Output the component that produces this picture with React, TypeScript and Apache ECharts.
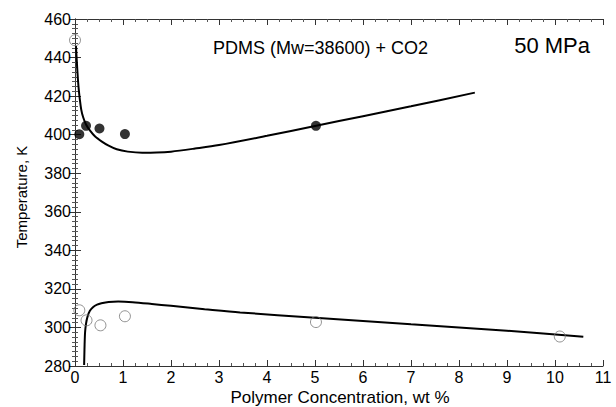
import React, { useEffect, useRef } from "react";
import * as echarts from "echarts";

// Measured cloud points (filled) and bubble/other points (open)
const filledX = [0.09, 0.23, 0.51, 1.04, 5.02];
const filledY = [400.2, 404.6, 403.2, 400.3, 404.6];
const openX = [0.0, 0.09, 0.24, 0.53, 1.04, 5.02, 10.1];
const openY = [449, 308.9, 303.7, 301.1, 305.8, 302.8, 295.3];

// Model curves
const upperX = [0.02, 0.04, 0.06, 0.08, 0.1, 0.13, 0.17, 0.23, 0.31, 0.42, 0.56, 0.7, 0.87, 1.1, 1.4, 1.7, 2.0, 2.5, 3.0, 4.0, 5.0, 6.0, 7.0, 8.33];
const upperY = [446, 437, 429, 423, 418.5, 413, 409, 405.3, 402.2, 399, 396.4, 394.3, 392.4, 391.2, 390.6, 390.7, 391.2, 392.8, 394.6, 399.4, 404.5, 409.6, 414.7, 421.8];
const lowerX = [0.19, 0.195, 0.2, 0.21, 0.23, 0.26, 0.31, 0.38, 0.46, 0.55, 0.7, 0.9, 1.2, 1.6, 2.0, 2.7, 3.44, 5.0, 7.0, 9.0, 10.59];
const lowerY = [280.5, 286, 291, 297.5, 302, 305.5, 308.6, 310.6, 311.8, 312.5, 313.2, 313.4, 313.1, 312.2, 311.2, 309.5, 307.8, 305.0, 301.6, 298.3, 295.2];

const xTicks = { min: 0, max: 11, interval: 1 };
const yTicks = { min: 280, max: 460, interval: 20 };

const FONT = "Liberation Sans, Arial, sans-serif";

export default function App() {
  const ref = useRef<HTMLDivElement>(null);
  useEffect(() => {
    if (!ref.current) return;
    const chart = echarts.init(ref.current, null, { renderer: "svg" });
    const axisLine = { show: true, lineStyle: { color: "#333", width: 1 } };
    const baseX = {
      type: "value" as const,
      min: xTicks.min,
      max: xTicks.max,
      interval: xTicks.interval,
      axisLine,
      axisTick: { show: true, inside: true, length: 6, lineStyle: { color: "#333" } },
      minorTick: { show: true, splitNumber: 4, length: 3, lineStyle: { color: "#555" } },
      splitLine: { show: false },
    };
    const baseY = {
      type: "value" as const,
      min: yTicks.min,
      max: yTicks.max,
      interval: yTicks.interval,
      axisLine,
      axisTick: { show: true, inside: true, length: 6, lineStyle: { color: "#333" } },
      minorTick: { show: true, splitNumber: 8, length: 3, lineStyle: { color: "#555" } },
      splitLine: { show: false },
    };
    chart.setOption({
      animation: false,
      backgroundColor: "#fff",
      grid: { left: 75, right: 13, top: 19, bottom: 41 },
      xAxis: [
        {
          ...baseX,
          position: "bottom",
          axisLabel: { show: true, fontSize: 16, color: "#000", fontFamily: FONT, margin: 3 },
        },
        { ...baseX, position: "top", axisLabel: { show: false } },
      ],
      yAxis: [
        {
          ...baseY,
          position: "left",
          axisLabel: { show: true, fontSize: 16, color: "#000", fontFamily: FONT, margin: 4 },
        },
        { ...baseY, position: "right", axisLabel: { show: false } },
      ],
      series: [
        {
          type: "line",
          data: upperX.map((x, i) => [x, upperY[i]]),
          showSymbol: false,
          smooth: 0.3,
          lineStyle: { color: "#000", width: 2 },
          z: 2,
        },
        {
          type: "line",
          data: lowerX.map((x, i) => [x, lowerY[i]]),
          showSymbol: false,
          smooth: 0.3,
          lineStyle: { color: "#000", width: 2 },
          z: 2,
        },
        {
          type: "scatter",
          data: filledX.map((x, i) => [x, filledY[i]]),
          symbol: "circle",
          symbolSize: 10,
          itemStyle: { color: "#000" },
          z: 3,
        },
        {
          type: "scatter",
          data: openX.map((x, i) => [x, openY[i]]),
          symbol: "circle",
          symbolSize: 11,
          itemStyle: { color: "rgba(255,255,255,0)", borderColor: "#777", borderWidth: 1 },
          z: 3,
        },
      ],
      graphic: [
        {
          type: "text",
          x: 340,
          y: 397,
          style: {
            text: "Polymer Concentration, wt %",
            fontSize: 17,
            fontFamily: FONT,
            fill: "#000",
            align: "center",
            verticalAlign: "middle",
          },
        },
        {
          type: "text",
          x: 21,
          y: 197,
          rotation: Math.PI / 2,
          style: {
            text: "Temperature, K",
            fontSize: 15,
            fontFamily: FONT,
            fill: "#000",
            align: "center",
            verticalAlign: "middle",
          },
        },
        {
          type: "text",
          x: 428,
          y: 48,
          style: {
            text: "PDMS (Mw=38600) + CO2",
            fontSize: 18,
            fontFamily: FONT,
            fill: "#000",
            align: "right",
            verticalAlign: "middle",
          },
        },
        {
          type: "text",
          x: 590,
          y: 45,
          style: {
            text: "50 MPa",
            fontSize: 22,
            fontFamily: FONT,
            fill: "#000",
            align: "right",
            verticalAlign: "middle",
          },
        },
      ],
    });
    return () => chart.dispose();
  }, []);
  return <div ref={ref} style={{ width: 616, height: 407, position: "absolute", left: 0, top: 0 }} />;
}
